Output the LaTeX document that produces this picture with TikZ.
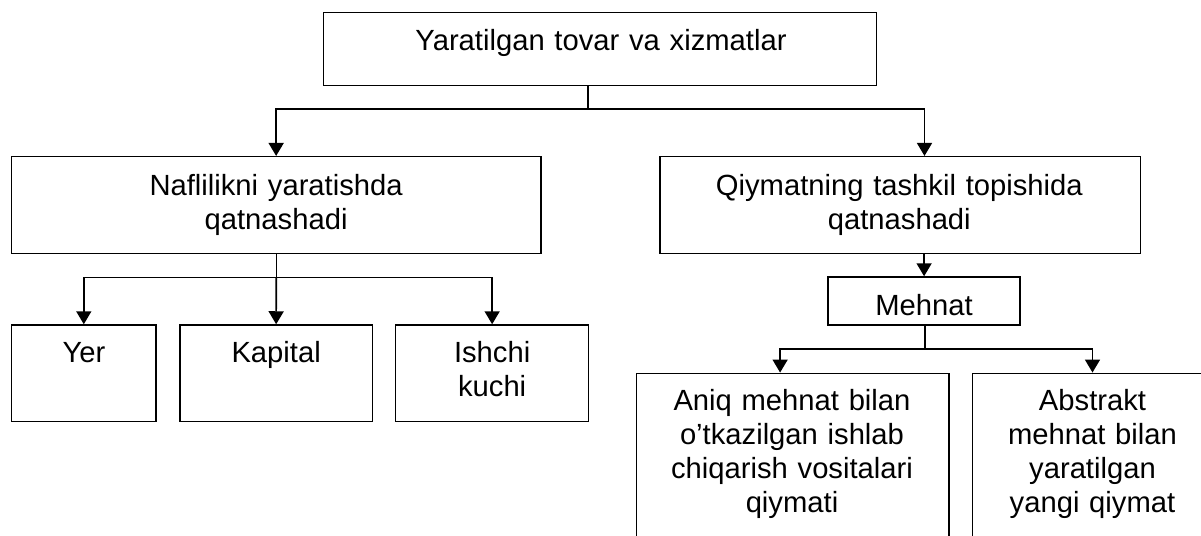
\documentclass[tikz,border=0pt]{standalone}
\usepackage{fontspec}
\setmainfont{Liberation Sans}
\usetikzlibrary{arrows.meta,calc}
\begin{document}
\begin{tikzpicture}[x=0.5pt,y=-0.5pt,
  box/.style={draw,line width=0.75pt,inner sep=0pt,rectangle},
  conn/.style={line width=0.8pt},
  arr/.style={line width=0.8pt,-{Triangle[length=6.5pt,width=7.5pt]}},
  txt/.style={anchor=base,inner sep=0pt,align=center,text width=#1,font=\fontsize{14.6pt}{17pt}\selectfont},
  txt/.default=200pt]
\fill[white] (0,0) rectangle (1201,536);
\useasboundingbox (0,0) rectangle (1201,536);
\clip (0,0) rectangle (1201,536);
% boxes
\node[box,minimum width=276.45pt,minimum height=36.3pt] (T) at (599.85,49) {};
\node[box,minimum width=264.65pt,minimum height=48.3pt] (L) at (276.15,205) {};
\node[box,minimum width=240.25pt,minimum height=48.3pt] (R) at (900.25,205) {};
\node[box,minimum width=96.1pt,minimum height=24pt] (M) at (924.1,301) {};
\node[box,minimum width=72.3pt,minimum height=48.35pt] (Y) at (83.8,373.35) {};
\node[box,minimum width=96.25pt,minimum height=48.35pt] (K) at (276.15,373.35) {};
\node[box,minimum width=96.45pt,minimum height=48.35pt] (I) at (492.15,373.35) {};
\node[box,minimum width=156.2pt,minimum height=103.35pt] (A) at (792.6,476.65) {};
\node[box,minimum width=119.9pt,minimum height=103.35pt] (B) at (1092.5,476.65) {};
% texts
\node[txt=260pt] (Tt) at (601,50.7) {Yaratilgan tovar va xizmatlar};
\node[txt=250pt] (Lt) at (276.1,195) {Naflilikni yaratishda\\qatnashadi};
\node[txt=230pt] (Rt) at (899.3,195) {Qiymatning tashkil topishida\\qatnashadi};
\node[txt=90pt] (Mt) at (924.1,315) {Mehnat};
\node[txt=70pt] (Yt) at (84,362.3) {Yer};
\node[txt=90pt] (Kt) at (276.15,362.3) {Kapital};
\node[txt=90pt] (It) at (492.15,362.3) {Ishchi\\kuchi};
\node[txt=150pt] (At) at (792,410) {Aniq mehnat bilan\\o’tkazilgan ishlab\\chiqarish vositalari\\qiymati};
\node[txt=118pt] (Bt) at (1092.5,410) {Abstrakt\\mehnat bilan\\yaratilgan\\yangi qiymat};
% connectors
\coordinate (tj) at (588.2,108.7);
\coordinate (rj) at (924.5,108.7);
\draw[conn] (T.south -| tj) -- (tj);
\draw[arr] (tj) -| (L.north);
\draw[arr] (tj) -- (rj) -- (R.north -| rj);
\draw[arr] (R.south -| M.north) -- (M.north);
\coordinate (lj) at (276.3,277.3);
\draw[conn] (L.south -| lj) -- (lj);
\draw[arr] (lj) -| (Y.north);
\draw[arr] (lj) -- (K.north);
\draw[arr] (lj) -| (I.north);
\coordinate (mj) at (925,349);
\coordinate (aa) at (780.1,349);
\draw[conn] (M.south -| mj) -- (mj);
\draw[arr] (mj) -- (aa) -- (A.north -| aa);
\draw[arr] (mj) -| (B.north);
\end{tikzpicture}
\end{document}
